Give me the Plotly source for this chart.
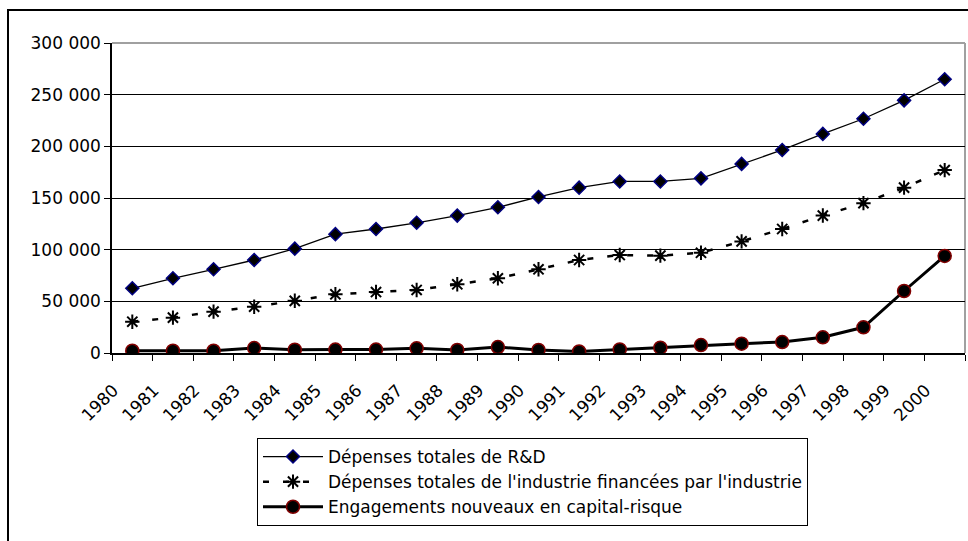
import plotly.graph_objects as go

years = [str(y) for y in range(1980, 2001)]

rd_total = [62600, 72300, 81000, 90000, 101000, 115000, 120000, 126000, 133000, 141000,
            151000, 160000, 166000, 166000, 169000, 183000, 196500, 212000, 226700, 244500, 264900]
industry_funded = [30300, 34200, 40000, 44800, 50500, 56800, 59000, 61000, 66500, 72300,
                   81000, 90000, 94800, 94200, 97000, 108000, 120000, 133000, 145000, 160000, 177000]
venture_capital = [2200, 2200, 2200, 4800, 3200, 3300, 3300, 4500, 2900, 5800,
                   2900, 1500, 3500, 5100, 7700, 9000, 10600, 15200, 24900, 60000, 93900]

y_tickvals = [0, 50000, 100000, 150000, 200000, 250000, 300000]
y_ticktext = ["0", "50 000", "100 000", "150 000", "200 000", "250 000", "300 000"]

names = ["Dépenses totales de R&D",
         "Dépenses totales de l'industrie financées par l'industrie",
         "Engagements nouveaux en capital-risque"]

FONT = "DejaVu Sans"
FS = 17

fig = go.Figure()
fig.add_trace(go.Scatter(
    x=years, y=rd_total, name=names[0], mode="lines+markers",
    line=dict(color="black", width=1.3),
    marker=dict(symbol="diamond", size=10, color="black",
                line=dict(color="#000080", width=1.5))))
fig.add_trace(go.Scatter(
    x=years, y=industry_funded, name=names[1], mode="lines+markers",
    line=dict(color="black", width=2.5, dash="6px,14px"),
    marker=dict(symbol="asterisk-open", size=12, color="black",
                line=dict(color="black", width=2))))
fig.add_trace(go.Scatter(
    x=years, y=venture_capital, name=names[2], mode="lines+markers",
    line=dict(color="black", width=3),
    marker=dict(symbol="circle", size=13, color="black",
                line=dict(color="#800000", width=1.5))))

fig.update_layout(
    width=968, height=541,
    margin=dict(l=112, r=3, t=43, b=188, autoexpand=False),
    paper_bgcolor="white", plot_bgcolor="white",
    font=dict(family=FONT, size=FS, color="black"),
    showlegend=True,
    legend=dict(x=(257 - 112) / 853, y=(353 - 438) / 310, xanchor="left", yanchor="top",
                bordercolor="black", borderwidth=1, bgcolor="white",
                font=dict(family=FONT, size=FS, color="black"),
                itemwidth=60, tracegroupgap=0),
    xaxis=dict(type="category", range=[-0.5, 20.5], tickson="boundaries",
               automargin=False,
               showgrid=False, showline=True, linecolor="black", linewidth=1.5,
               ticks="outside", ticklen=6, tickcolor="black", tickwidth=1,
               tickangle=-45, ticklabelstandoff=19, ticklabelshift=-19,
               tickfont=dict(family=FONT, size=FS, color="black"),
               zeroline=False),
    yaxis=dict(range=[0, 300000], tickvals=y_tickvals, ticktext=y_ticktext,
               automargin=False,
               showgrid=True, gridcolor="black", gridwidth=1,
               showline=True, linecolor="black", linewidth=1.5,
               ticks="outside", ticklen=6, tickcolor="black", tickwidth=1,
               tickfont=dict(family=FONT, size=FS, color="black"),
               zeroline=False),
    shapes=[
        dict(type="line", xref="paper", yref="paper", x0=0, x1=1, y0=1, y1=1,
             line=dict(color="#a0a0a0", width=2), layer="below"),
        dict(type="line", xref="paper", yref="paper", x0=1, x1=1, y0=0, y1=1,
             line=dict(color="#a0a0a0", width=2), layer="below"),
        dict(type="rect", xref="paper", yref="paper",
             x0=(8 - 112) / 853, x1=(980 - 112) / 853,
             y0=(353 - 560) / 310, y1=(353 - 10) / 310,
             line=dict(color="black", width=2), fillcolor="rgba(0,0,0,0)", layer="below"),
    ],
)

fig.write_html("out.html", config={"displayModeBar": False},
               post_script="document.body.style.margin='0';")
